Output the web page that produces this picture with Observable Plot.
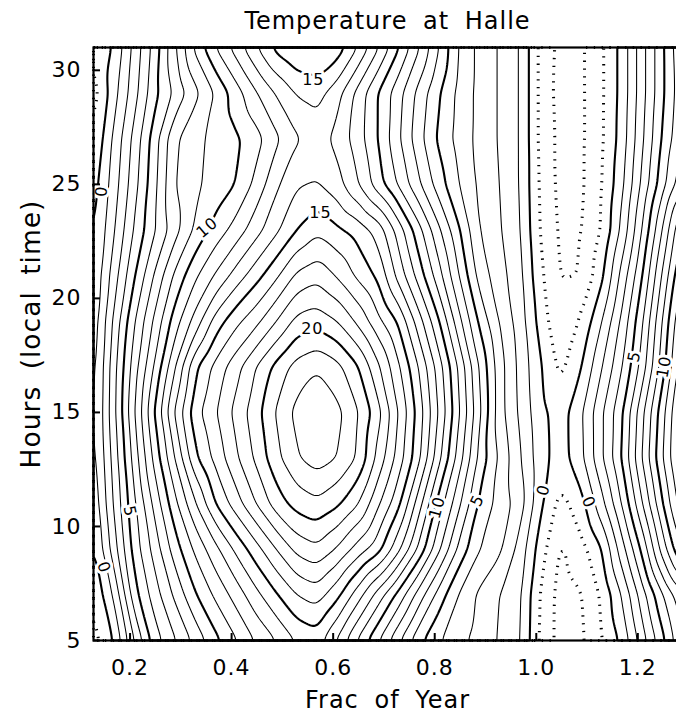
<!DOCTYPE html>
<html><head><meta charset="utf-8">
<script src="https://cdn.jsdelivr.net/npm/d3@7"></script>
<script src="https://cdn.jsdelivr.net/npm/@observablehq/plot@0.6"></script>
<style>
html,body{margin:0;padding:0;background:#fff;overflow:hidden;}
svg{display:block;overflow:hidden;}
svg text{letter-spacing:1px;word-spacing:7px;}
</style></head><body><div id="chart"></div>
<script>
// Grid: fraction of year (columns) x local hour (rows), temperature in degC
const fracs = [0.128,0.168,0.208,0.248,0.288,0.328,0.368,0.408,0.448,0.488,0.528,0.568,0.608,0.648,0.688,0.728,0.768,0.808,0.848,0.888,0.928,0.968,1.008,1.048,1.088,1.128,1.168,1.208,1.248,1.288];
const hours = [5,7,9,11,13,15,17,19,21,23,25,27,29,31];
const temps = [
 [-1.4,0.0,3.0,5.5,6.9,8.3,9.7,10.9,12.1,13.0,14.1,14.5,12.9,10.9,9.1,7.2,5.3,4.1,3.3,2.6,1.9,1.1,-1.2,-2.4,-2.2,-1.1,0.2,2.5,4.7,7.0],
 [-0.9,1.1,4.6,6.5,8.2,9.9,11.2,12.4,13.7,14.9,16.0,16.5,15.3,13.5,11.6,9.7,7.6,5.6,3.9,2.8,2.0,1.2,-1.1,-2.4,-2.1,-0.9,1.0,3.5,5.9,7.9],
 [-0.2,2.5,5.4,7.4,9.5,11.2,12.7,14.2,15.6,17.0,18.3,18.8,17.9,16.6,15.4,13.3,10.8,8.2,5.7,4.0,3.2,1.6,-0.5,-2.2,-1.4,-0.1,2.5,5.2,8.4,11.2],
 [0.2,3.1,5.8,8.3,10.7,12.9,15.0,16.5,18.0,19.5,20.4,20.8,20.2,19.1,17.2,15.3,12.5,9.6,7.2,4.8,3.6,2.5,0.2,-1.4,-0.4,1.6,4.0,6.9,9.9,12.8],
 [0.5,3.4,6.4,9.3,12.0,14.8,16.3,17.8,19.2,20.7,21.9,22.5,22.0,20.9,18.7,16.6,14.3,11.3,8.5,5.7,3.8,2.1,0.4,-0.5,0.7,2.8,5.0,8.0,10.9,13.6],
 [0.6,3.7,6.9,10.0,13.1,15.6,16.9,18.3,19.6,21.1,22.3,22.9,22.3,21.1,19.4,17.0,14.6,11.9,9.1,6.2,3.4,1.8,0.3,-0.5,0.8,2.8,4.8,7.7,10.6,13.5],
 [0.5,3.6,6.5,9.1,11.9,14.8,16.3,17.6,19.0,20.3,21.4,21.9,21.3,20.1,18.2,16.2,14.0,11.5,8.8,5.9,3.4,1.7,0.1,-1.3,-0.1,1.9,3.9,6.4,9.5,12.8],
 [0.3,3.2,5.9,8.2,10.5,12.4,14.4,15.7,16.7,18.0,19.3,19.6,19.0,17.8,16.3,14.9,12.5,10.1,7.3,4.8,2.9,1.5,-0.4,-1.9,-0.9,0.9,3.2,5.8,9.0,12.2],
 [0.1,2.5,4.9,7.1,9.2,10.8,12.1,13.4,14.6,15.8,17.2,17.7,16.9,15.8,14.8,12.7,10.6,8.4,6.0,3.6,2.4,1.3,-0.8,-2.1,-2.0,-0.3,2.3,4.9,8.1,11.2],
 [-0.2,1.9,4.1,5.9,7.6,9.2,10.4,11.4,12.6,13.8,15.0,15.8,15.2,14.6,13.6,11.6,9.4,7.2,5.1,3.0,2.1,1.1,-1.1,-2.2,-2.1,-1.0,1.2,4.0,7.0,10.2],
 [-0.5,1.5,3.6,5.7,8.0,8.8,9.4,10.0,11.3,12.8,13.9,14.1,13.4,12.1,10.5,8.9,7.2,5.5,4.0,2.8,2.0,1.0,-1.2,-2.3,-2.2,-1.1,0.7,3.2,5.6,7.8],
 [-1.0,1.2,3.3,5.5,7.8,8.7,9.3,9.8,10.6,11.8,12.9,13.5,12.7,11.5,10.0,8.2,6.4,4.8,3.6,2.7,1.9,1.0,-1.3,-2.3,-2.2,-1.2,0.4,2.8,5.1,7.0],
 [-1.5,0.6,2.6,4.7,6.2,7.7,9.1,10.5,11.9,13.1,14.1,14.4,13.4,11.7,10.0,8.4,6.7,5.1,3.7,2.7,1.9,1.0,-1.3,-2.4,-2.2,-1.2,0.3,2.6,4.8,6.8],
 [-1.0,0.1,2.3,4.4,6.8,9.2,11.0,12.4,13.9,15.3,16.0,16.1,15.6,14.0,12.1,10.1,8.1,6.0,3.9,2.7,1.9,1.0,-1.3,-2.3,-2.2,-1.2,0.3,2.6,4.8,7.0]
];
const thinLevels = [1,2,3,4,6,7,8,9,11,12,13,14,16,17,18,19,21,22];
const boldLevels = [0,5,10,15,20];
const negLevels = [-2,-1];
const xTicks = [0.2,0.4,0.6,0.8,1.0,1.2];
const yTicks = [5,10,15,20,25,30];
const contourLabels = [
 {f:0.561,h:29.6,s:"15",r:0},
 {f:0.575,h:23.76,s:"15",r:0},
 {f:0.559,h:18.68,s:"20",r:0},
 {f:0.352,h:23.1,s:"10",r:-40},
 {f:0.144,h:24.7,s:"0",r:-85},
 {f:0.199,h:10.66,s:"5",r:78},
 {f:0.148,h:8.2,s:"0",r:70},
 {f:0.805,h:10.83,s:"10",r:-75},
 {f:0.884,h:11.14,s:"5",r:-65},
 {f:1.014,h:11.6,s:"0",r:-75},
 {f:1.103,h:11.05,s:"0",r:65},
 {f:1.193,h:17.45,s:"5",r:-78},
 {f:1.252,h:17.0,s:"10",r:-80}
];

const points = [];
hours.forEach((h, i) => fracs.forEach((f, j) => points.push({f, h, t: temps[i][j]})));

const W = 676, H = 717, mL = 93, mT = 47, mB = 77, mR = -5;
const frameW = W - mL - mR, frameH = H - mT - mB;
const font = "DejaVu Sans, sans-serif";
const base = {x: "f", y: "h", value: "t", interpolate: "barycentric", pixelSize: 1, blur: 4, fill: "none", stroke: "black"};

const chart = Plot.plot({
  width: W, height: H,
  marginLeft: mL, marginTop: mT, marginBottom: mB, marginRight: mR,
  x: {domain: [0.128, 1.286], axis: null},
  y: {domain: [5, 31], axis: null},
  style: {fontFamily: font, background: "white", color: "black"},
  marks: [
    Plot.contour(points, {...base, thresholds: thinLevels, strokeWidth: 1.05}),
    Plot.contour(points, {...base, thresholds: boldLevels, strokeWidth: 2.1}),
    Plot.contour(points, {...base, thresholds: negLevels, strokeWidth: 3, strokeDasharray: "1.3,6.5"}),
    Plot.text(contourLabels, {x: "f", y: "h", text: "s", rotate: "r", fontSize: 16, fill: "black", stroke: "white", strokeWidth: 6}),
    Plot.frame({stroke: "black", strokeWidth: 2.2}),
    Plot.tickX(xTicks, {x: d => d, insetTop: frameH - 7, stroke: "black", strokeWidth: 2}),
    Plot.tickY(yTicks, {y: d => d, insetRight: frameW - 7, stroke: "black", strokeWidth: 2}),
    Plot.axisX(xTicks, {tickSize: 0, tickPadding: 19, fontSize: 22, tickFormat: d3.format(".1f"), label: null}),
    Plot.axisY(yTicks, {tickSize: 0, tickPadding: 12, fontSize: 22, label: null}),
    Plot.text(["Temperature at Halle"], {frameAnchor: "top", dy: -26, lineAnchor: "middle", textAnchor: "middle", fontSize: 24}),
    Plot.text(["Frac of Year"], {frameAnchor: "bottom", dy: 60, lineAnchor: "middle", textAnchor: "middle", fontSize: 24}),
    Plot.text(["Hours (local time)"], {frameAnchor: "left", dx: -62, dy: -10, rotate: -90, lineAnchor: "middle", textAnchor: "middle", fontSize: 26.5})
  ]
});
document.getElementById("chart").appendChild(chart);
</script>
</body></html>
